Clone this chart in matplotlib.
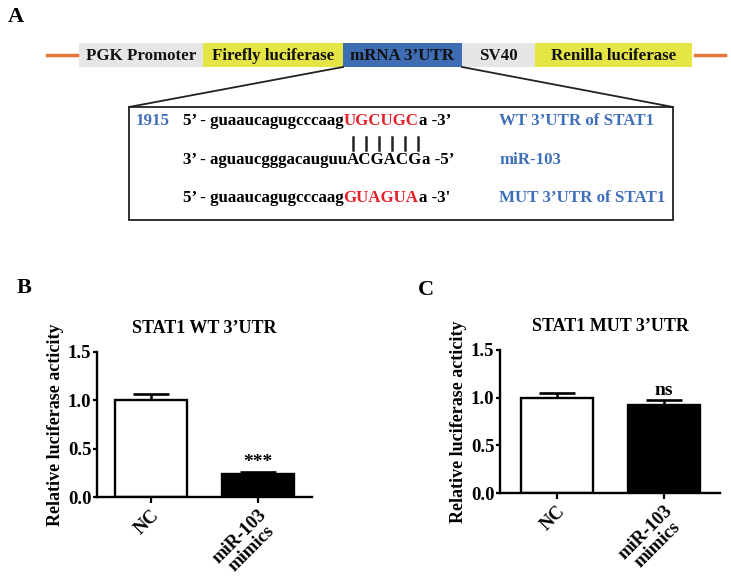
import matplotlib
matplotlib.use("Agg")
import matplotlib.pyplot as plt
from matplotlib.patches import Rectangle

plt.rcParams['font.family'] = ['Liberation Serif', 'DejaVu Serif']
plt.rcParams['font.weight'] = 'bold'

# ---------------- data ----------------
segments = ["PGK Promoter", "Firefly luciferase", "mRNA 3’UTR", "SV40", "Renilla luciferase"]
seg_colors = ["#e6e6e6", "#e5e545", "#3f6db3", "#e6e6e6", "#e5e545"]
seg_edges = [79, 203, 343, 462, 535, 692]

site_pos = "1915"
rows = [
    [("5’ - guaaucagugcccaag", "black"), ("UGCUGC", "#e8202a"), ("a -3’", "black")],
    [("3’ - aguaucgggacauguu", "black"), ("ACGACG", "black"), ("a -5’", "black")],
    [("5’ - guaaucagugcccaag", "black"), ("GUAGUA", "#e8202a"), ("a -3'", "black")],
]
row_labels = ["WT 3’UTR of STAT1", "miR-103", "MUT 3’UTR of STAT1"]

groups = ["NC", "miR-103\nmimics"]
wt_mean = [1.00, 0.235]
wt_err = [0.07, 0.02]
mut_mean = [1.00, 0.92]
mut_err = [0.045, 0.055]
wt_sig = "***"
mut_sig = "ns"

W, H = 731, 578
fig = plt.figure(figsize=(W / 100, H / 100), dpi=100)

# ---------------- panel A (pixel coordinates) ----------------
ax0 = fig.add_axes([0, 0, 1, 1])
ax0.set_xlim(0, W)
ax0.set_ylim(H, 0)
ax0.axis('off')

blue_txt = "#3f6fba"
orange = "#e8783a"
fs = 12.2

ax0.text(8, 17, "A", fontsize=16, fontweight='bold', va='center', ha='left')
ax0.plot([47, 77], [55, 55], color=orange, lw=2.5)
ax0.plot([695, 725], [55, 55], color=orange, lw=2.5)
for i, name in enumerate(segments):
    x0, x1 = seg_edges[i], seg_edges[i + 1]
    ax0.add_patch(Rectangle((x0, 43), x1 - x0, 24, facecolor=seg_colors[i], edgecolor='none'))
    ax0.text((x0 + x1) / 2, 55.5, name, fontsize=fs, ha='center', va='center', color='#111111')

# zoom lines and inner box
ax0.plot([seg_edges[2], 129], [67, 107], color='#222222', lw=1.3)
ax0.plot([seg_edges[3], 673], [67, 107], color='#222222', lw=1.3)
ax0.add_patch(Rectangle((129, 107), 673 - 129, 220 - 107, facecolor='white', edgecolor='#222222', lw=1.3))

row_y = [121, 160, 198]
ax0.text(136, row_y[0], site_pos, fontsize=fs, color=blue_txt, ha='left', va='center')
for ry, parts, lab in zip(row_y, rows, row_labels):
    prev = ax0.text(183, ry, parts[0][0], fontsize=fs, color=parts[0][1], ha='left', va='center')
    for txt, col in parts[1:]:
        prev = ax0.annotate(txt, xycoords=prev, xy=(1, 0), va='bottom', ha='left',
                            fontsize=fs, color=col)
    ax0.text(499, ry, lab, fontsize=fs, color=blue_txt, ha='left', va='center')

for k in range(6):
    xb = 353 + k * (418 - 353) / 5
    ax0.plot([xb, xb], [137, 150], color='#222222', lw=1.8)


# ---------------- panels B and C ----------------
def bar_panel(rect, means, errs, title, sig, letter, letter_xy, xlim):
    ax = fig.add_axes(rect)
    x = list(range(len(groups)))
    ax.bar(x, means, width=0.67, color=['white', 'black'], edgecolor='black', linewidth=1.7, zorder=2)
    ax.errorbar(x, means, yerr=[[0] * len(errs), errs], fmt='none', ecolor='black',
                elinewidth=1.8, capsize=13, capthick=1.9, zorder=1)
    ax.set_ylim(0, 1.5)
    ax.set_xlim(*xlim)
    ax.set_yticks([0.0, 0.5, 1.0, 1.5])
    ax.set_yticklabels(["0.0", "0.5", "1.0", "1.5"], fontsize=13.5, fontweight='bold')
    ax.set_xticks(x)
    ax.set_xticklabels(groups, rotation=45, ha='right', va='top', rotation_mode='anchor',
                       fontsize=13.5, fontweight='bold', multialignment='center',
                       linespacing=0.95)
    ax.tick_params(axis='y', length=3, width=1.6, pad=1)
    ax.tick_params(axis='x', length=4, width=1.6, pad=3)
    for s in ['top', 'right']:
        ax.spines[s].set_visible(False)
    for s in ['left', 'bottom']:
        ax.spines[s].set_linewidth(1.7)
    ax.set_ylabel("Relative luciferase acticity", fontsize=13, fontweight='bold', labelpad=3)
    ax.set_title(title, fontsize=13, fontweight='bold', pad=14)
    ax.text(1, means[1] + errs[1] + 0.01, sig, ha='center', va='bottom', fontsize=14, fontweight='bold')
    fig.text(letter_xy[0] / W, 1 - letter_xy[1] / H, letter, fontsize=16, fontweight='bold',
             ha='left', va='center')
    return ax


bar_panel([97 / W, 1 - 497 / H, (312 - 97) / W, (497 - 352) / H], wt_mean, wt_err,
          "STAT1 WT 3’UTR", wt_sig, "B", (17, 288), (-0.5, 1.5))
bar_panel([500 / W, 1 - 493 / H, (720 - 500) / W, (493 - 350) / H], mut_mean, mut_err,
          "STAT1 MUT 3’UTR", mut_sig, "C", (418, 290), (-0.53, 1.52))

fig.savefig("out.png", dpi=100)
